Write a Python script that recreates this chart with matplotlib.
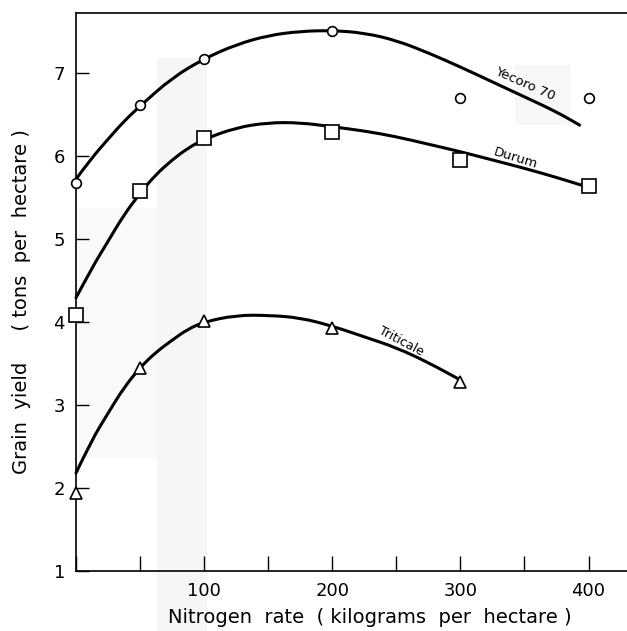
import matplotlib.pyplot as plt
from matplotlib.patches import Rectangle, PathPatch
from matplotlib.path import Path
from matplotlib.ticker import FixedLocator, FixedFormatter

# =================================
# DATA
# =================================

nitrogen = [0, 50, 100, 200, 300, 400]
yecoro = [5.67, 6.61, 7.17, 7.50, 6.70, 6.70]
durum = [4.08, 5.58, 6.22, 6.29, 5.95, 5.64]

triticale_n = [0, 50, 100, 200, 300]
triticale = [1.94, 3.45, 4.01, 3.93, 3.28]

# hand drawn response curves
yecoro_curve_n = [0, 12, 25, 37, 50, 75, 100, 125, 150, 175, 200, 225,
                  250, 275, 300, 325, 350, 375, 393]
yecoro_curve = [5.72, 5.97, 6.20, 6.41, 6.60, 6.94, 7.17, 7.34, 7.45,
                7.50, 7.51, 7.48, 7.39, 7.24, 7.07, 6.89, 6.71, 6.53, 6.37]

durum_curve_n = [0, 12, 25, 37, 50, 62, 75, 87, 100, 125, 150, 175, 200,
                 225, 250, 275, 300, 325, 350, 375, 400]
durum_curve = [4.29, 4.64, 4.97, 5.28, 5.55, 5.77, 5.95, 6.09, 6.20,
               6.34, 6.40, 6.40, 6.35, 6.30, 6.23, 6.14, 6.05, 5.95,
               5.85, 5.74, 5.62]

triticale_curve_n = [0, 12, 25, 37, 50, 62, 75, 87, 100, 125, 150, 175,
                     200, 225, 250, 275, 300]
triticale_curve = [2.18, 2.57, 2.90, 3.20, 3.45, 3.63, 3.78, 3.91, 4.00,
                   4.08, 4.08, 4.05, 3.95, 3.82, 3.69, 3.51, 3.30]

x_ticks = [0, 50, 100, 150, 200, 250, 300, 350, 400]
x_tick_labels = ["", "", "100", "", "200", "", "300", "", "400"]
y_ticks = [1, 2, 3, 4, 5, 6, 7]
y_tick_labels = ["1", "2", "3", "4", "5", "6", "7"]

FONT = ["DejaVu Sans"]


def smooth_path(xs, ys):
    # quadratic bezier: read points act as control points,
    # the curve runs through the midpoints between them
    verts = [(xs[0], ys[0])]
    codes = [Path.MOVETO]
    for i in range(1, len(xs) - 1):
        mid = ((xs[i] + xs[i + 1]) / 2, (ys[i] + ys[i + 1]) / 2)
        verts += [(xs[i], ys[i]), mid]
        codes += [Path.CURVE3, Path.CURVE3]
    verts.append((xs[-1], ys[-1]))
    codes.append(Path.LINETO)
    return Path(verts, codes)


# =================================
# FIGURE
# =================================

fig = plt.figure(figsize=(6.27, 6.31), dpi=100)

# faint scan shading, on a background layer
bg = fig.add_axes([0, 0, 1, 1], zorder=-1)
bg.set_xlim(0, 627)
bg.set_ylim(631, 0)
bg.axis("off")
bg.add_patch(Rectangle((157, 58), 50, 573, facecolor="#f6f6f6",
                       edgecolor="none"))
bg.add_patch(Rectangle((77, 208), 80, 250, facecolor="#f9f9f9",
                       edgecolor="none"))
bg.add_patch(Rectangle((515, 65), 55, 60, facecolor="#f7f7f7",
                       edgecolor="none"))

ax = fig.add_axes([76 / 627, 60 / 631, 551 / 627, 558 / 631])
ax.patch.set_alpha(0)

# =================================
# CURVES AND POINTS
# =================================

for cx, cy in [(yecoro_curve_n, yecoro_curve),
               (durum_curve_n, durum_curve),
               (triticale_curve_n, triticale_curve)]:
    ax.add_patch(PathPatch(smooth_path(cx, cy), facecolor="none",
                           edgecolor="black", lw=2.2, capstyle="round",
                           joinstyle="round", clip_on=False, zorder=2))

ax.plot(nitrogen, yecoro, linestyle="none", marker="o", ms=7,
        mfc="white", mec="black", mew=1.2, clip_on=False, zorder=3)
ax.plot(nitrogen, durum, linestyle="none", marker="s", ms=10,
        mfc="white", mec="black", mew=1.2, clip_on=False, zorder=3)
ax.plot(triticale_n, triticale, linestyle="none", marker="^", ms=8,
        mfc="white", mec="black", mew=1.2, clip_on=False, zorder=3)

# =================================
# CURVE LABELS
# =================================

ax.text(350, 6.87, "Yecoro 70", rotation=-24, ha="center",
        va="center", fontsize=9.5, family=FONT)
ax.text(343, 5.97, "Durum", rotation=-17, ha="center",
        va="center", fontsize=9.5, family=FONT)
ax.text(254, 3.76, "Triticale", rotation=-28, ha="center",
        va="center", fontsize=9, family=FONT)

# =================================
# AXES STYLE
# =================================

ax.set_xlim(0, 430)
ax.set_ylim(1, 7.72)

ax.spines["right"].set_visible(False)
for side in ["left", "top", "bottom"]:
    ax.spines[side].set_linewidth(1.2)

ax.xaxis.set_major_locator(FixedLocator(x_ticks))
ax.xaxis.set_major_formatter(FixedFormatter(x_tick_labels))
ax.yaxis.set_major_locator(FixedLocator(y_ticks))
ax.yaxis.set_major_formatter(FixedFormatter(y_tick_labels))

ax.tick_params(axis="x", direction="in", length=11, width=1.0, pad=8,
               labelsize=13)
ax.tick_params(axis="y", direction="in", length=9, width=1.0, pad=8,
               labelsize=13)

for lab in ax.get_xticklabels() + ax.get_yticklabels():
    lab.set_family(FONT)

ax.set_xlabel("Nitrogen  rate  ( kilograms  per  hectare )",
              fontsize=14, family=FONT)
ax.xaxis.set_label_coords((370 - 76) / 551, -0.066)
ax.set_ylabel("Grain  yield     ( tons  per  hectare )",
              fontsize=14, family=FONT)
ax.yaxis.set_label_coords(-0.082, (571 - 302) / 558)

fig.savefig("out.png", dpi=100)
